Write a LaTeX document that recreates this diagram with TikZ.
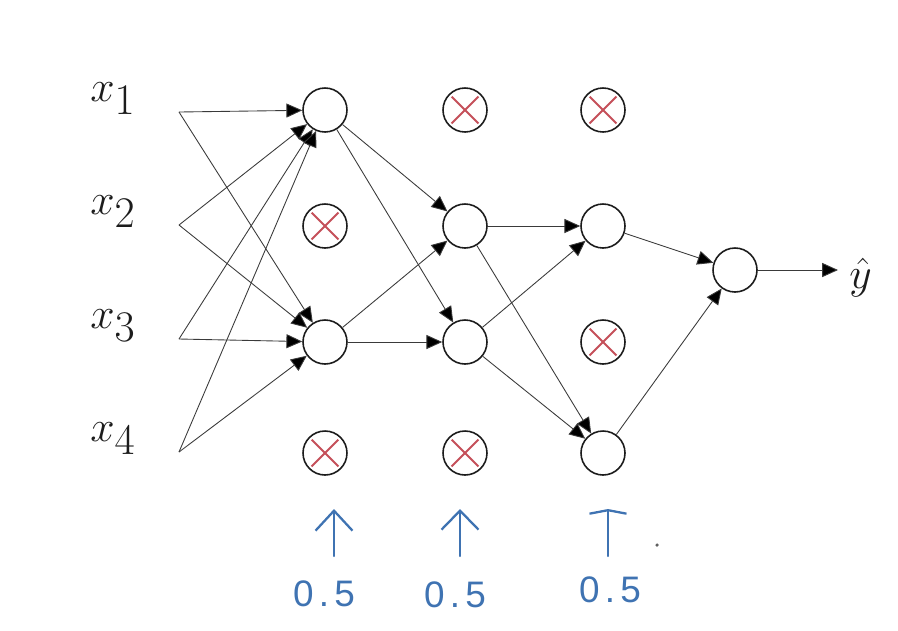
\documentclass[tikz,border=0pt]{standalone}
\usepackage{fontspec}
\usetikzlibrary{arrows.meta,positioning,calc}
\definecolor{ink}{HTML}{1C1C1C}
\definecolor{wirec}{HTML}{3A3A3A}
\definecolor{drop}{HTML}{C5505A}
\definecolor{pen}{HTML}{3F73B2}
\newfontfamily\penfont{Liberation Sans}
\newcommand{\UnitD}{0.88cm}
\newcommand{\LabelFont}{\fontsize{36}{40}\selectfont}

\begin{document}
\begin{tikzpicture}[x=0.02cm, y=-0.02cm, ink,
    unit/.style={circle, draw=ink, line width=0.9pt, fill=white, minimum size=\UnitD, inner sep=0pt},
    dropped/.style={unit},
    cross/.style={draw=drop, line width=1.1pt, shorten <=2.2pt, shorten >=2.2pt},
    wire/.style={-{Triangle[length=9pt,width=8pt,fill=black]}, line width=0.5pt, draw=wirec},
    penlabel/.style={text=pen, font=\penfont\fontsize{21}{24}\selectfont, inner sep=1pt},
    penstroke/.style={draw=pen, line width=1.3pt, line cap=round, line join=round},
  ]
\useasboundingbox (0,0) rectangle (898,630);

% --- Inputs: a free end and its label ------------------------------------------
\foreach \i/\y in {1/112,2/225,3/339,4/452} {
  \coordinate (in\i) at (179,\y);
  \node[anchor=base west, inner sep=0pt, font=\LabelFont] (lx\i) at (90,\y-11) {$x_{\i}$};
}

% --- Units: column / row / kind ------------------------------------------------
\foreach \c/\r/\kind in {1/1/unit,1/2/dropped,1/3/unit,1/4/dropped,
                         2/1/dropped,2/2/unit,2/3/unit,2/4/dropped,
                         3/1/dropped,3/2/unit,3/3/dropped,3/4/unit} {
  \pgfmathsetmacro{\x}{{325,465,603}[\c-1]}
  \pgfmathsetmacro{\y}{{110,226,342,453}[\r-1]}
  \node[\kind] (u\c\r) at (\x,\y) {};
}
\node[unit] (out) at (735,270) {};

% --- Red crosses on the dropped units ------------------------------------------
\foreach \n in {u12,u14,u21,u24,u31,u33} {
  \draw[cross] (\n.45) -- (\n.225);
  \draw[cross] (\n.135) -- (\n.315);
}

% --- Connections ---------------------------------------------------------------
\foreach \i in {1,...,4} \foreach \j in {1,3} \draw[wire] (in\i) -- (u1\j);
\foreach \i in {1,3} \foreach \j in {2,3} \draw[wire] (u1\i) -- (u2\j);
\foreach \i in {2,3} \foreach \j in {2,4} \draw[wire] (u2\i) -- (u3\j);
\foreach \i in {2,4} \draw[wire] (u3\i) -- (out);

\coordinate (ytip) at (838,270);
\draw[wire] (out) -- (ytip);
\node[anchor=base west, inner sep=0pt, font=\LabelFont] (yhat) at (849,288) {$\hat{y}$};

% --- Hand-written keep probabilities -------------------------------------------
\foreach \c/\x/\lx/\ly/\len in {1/334/324/594/0.40cm,2/460/455/595/0.38cm,3/608/610/590/0.07cm} {
  \coordinate (t\c) at (\x,509);
  \draw[penstroke, -{Straight Barb[length=\len, width=0.74cm, line width=1.3pt]}] (t\c) ++(0,47) -- (t\c);
  \node[penlabel] (p\c) at (\lx,\ly) {0\kern3pt.\kern3pt5};
}
\fill[ink!70] (657,545) circle (1pt);
\end{tikzpicture}
\end{document}
